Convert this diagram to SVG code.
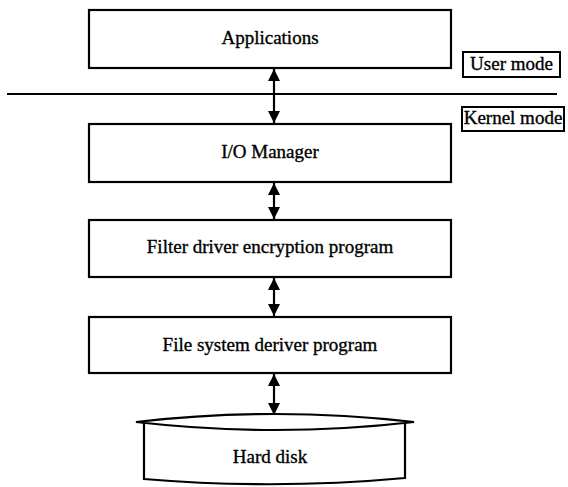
<svg xmlns="http://www.w3.org/2000/svg" width="568" height="487" viewBox="0 0 568 487">
<defs>
<style>
.box{fill:#fff;stroke:#000;stroke-width:2.2}
.lbl{fill:#fff;stroke:#000;stroke-width:2}
.t{font-family:"Liberation Serif","Times New Roman",serif;font-size:19px;fill:#000;stroke:#000;stroke-width:0.35;text-anchor:middle}
.c{stroke:#000;stroke-width:2.2;fill:none}
</style>
<marker id="ah" viewBox="0 0 12 12" markerWidth="12" markerHeight="12" refX="12" refY="6" orient="auto-start-reverse" markerUnits="userSpaceOnUse">
<path d="M0,0 L12,6 L0,12 Z" fill="#000"/>
</marker>
</defs>
<rect width="568" height="487" fill="#fff"/>
<line x1="7" y1="94" x2="557" y2="94" stroke="#000" stroke-width="2.2"/>
<g id="applications">
<rect class="box" x="89" y="10" width="362" height="58"/>
<text class="t" x="270" y="44">Applications</text>
</g>
<g id="user-mode">
<rect class="lbl" x="463" y="52" width="97" height="25"/>
<text class="t" x="511.5" y="70">User mode</text>
</g>
<g id="kernel-mode">
<rect class="lbl" x="462" y="107" width="102" height="24"/>
<text class="t" x="513" y="124">Kernel mode</text>
</g>
<g id="io-manager">
<rect class="box" x="89" y="124" width="362" height="58"/>
<text class="t" x="270" y="158">I/O Manager</text>
</g>
<g id="filter-driver">
<rect class="box" x="89" y="220" width="362" height="57"/>
<text class="t" x="270" y="253">Filter driver encryption program</text>
</g>
<g id="file-system">
<rect class="box" x="89" y="317" width="362" height="56"/>
<text class="t" x="270" y="351">File system deriver program</text>
</g>
<g id="hard-disk">
<path class="box" d="M144,422 L144,479 Q275,490 405,478 L405,422"/>
<path class="box" d="M136,422 Q275,406 414,422 Q275,438 136,422 Z"/>
<text class="t" x="270" y="463">Hard disk</text>
</g>
<g id="connectors">
<line class="c" x1="274" y1="69" x2="274" y2="123" marker-start="url(#ah)" marker-end="url(#ah)"/>
<line class="c" x1="274" y1="183" x2="274" y2="219" marker-start="url(#ah)" marker-end="url(#ah)"/>
<line class="c" x1="274" y1="278" x2="274" y2="316" marker-start="url(#ah)" marker-end="url(#ah)"/>
<line class="c" x1="274" y1="374" x2="274" y2="415" marker-start="url(#ah)" marker-end="url(#ah)"/>
</g>
</svg>
